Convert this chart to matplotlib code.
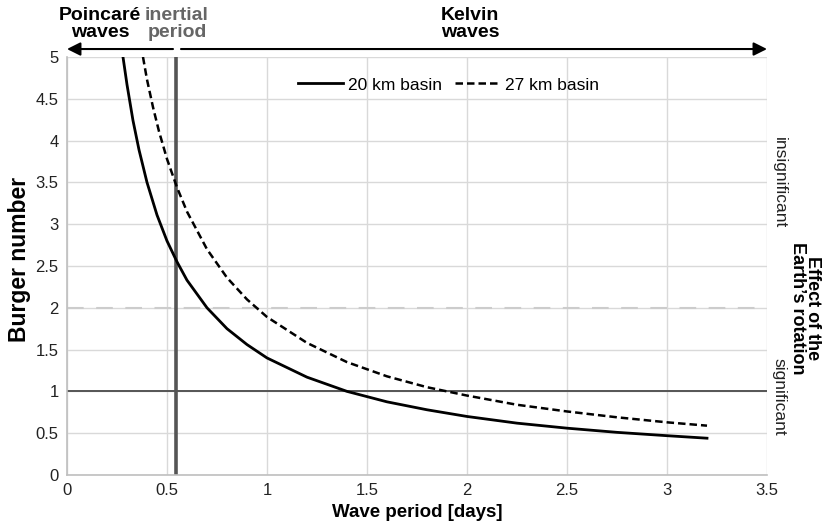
import matplotlib
matplotlib.use('AGG')
import matplotlib.pyplot as plt

# values
period_20 = [0.28, 0.30, 0.33, 0.36, 0.40, 0.45, 0.50, 0.55, 0.60, 0.70, 0.80, 0.90, 1.00,
             1.20, 1.40, 1.60, 1.80, 2.00, 2.25, 2.50, 2.75, 3.00, 3.20]
burger_20 = [5.00, 4.67, 4.24, 3.89, 3.50, 3.11, 2.80, 2.55, 2.33, 2.00, 1.75, 1.56, 1.40,
             1.17, 1.00, 0.875, 0.78, 0.70, 0.62, 0.56, 0.51, 0.47, 0.44]
period_27 = [0.38, 0.40, 0.43, 0.46, 0.50, 0.55, 0.60, 0.70, 0.80, 0.90, 1.00, 1.20, 1.40,
             1.60, 1.80, 2.00, 2.25, 2.50, 2.75, 3.00, 3.20]
burger_27 = [5.00, 4.73, 4.40, 4.11, 3.78, 3.44, 3.15, 2.70, 2.36, 2.10, 1.89, 1.58, 1.35,
             1.18, 1.05, 0.95, 0.84, 0.76, 0.69, 0.63, 0.59]
inertial_period = 0.545
xticks = [0, 0.5, 1, 1.5, 2, 2.5, 3, 3.5]
yticks = [0, 0.5, 1, 1.5, 2, 2.5, 3, 3.5, 4, 4.5, 5]

plt.rcParams['font.family'] = ['Liberation Sans', 'DejaVu Sans']

fig = plt.figure(figsize=(8.25, 5.28), dpi=100)
ax = fig.add_axes([0.0812, 0.1004, 0.8485, 0.7917])

ax.set_xlim(0, 3.5)
ax.set_ylim(0, 5)
ax.set_xticks(xticks)
ax.set_yticks(yticks)
ax.set_xticklabels(['0', '0.5', '1', '1.5', '2', '2.5', '3', '3.5'], fontsize=12)
ax.set_yticklabels(['0', '0.5', '1', '1.5', '2', '2.5', '3', '3.5', '4', '4.5', '5'], fontsize=12)
ax.tick_params(length=0, pad=6, colors='#222222')
ax.grid(True, color='#d9d9d9', linewidth=1.0)
ax.set_axisbelow(True)
for s in ['top', 'right']:
    ax.spines[s].set_visible(False)
for s in ['left', 'bottom']:
    ax.spines[s].set_color('#bfbfbf')
    ax.spines[s].set_linewidth(1.2)

ax.axhline(2, color='#cccccc', linewidth=1.5, linestyle=(0, (8, 6)), zorder=1)
ax.axhline(1, color='#555555', linewidth=1.4, zorder=2)
ax.axvline(inertial_period, color='#555555', linewidth=2.6, zorder=2)

ax.plot(period_20, burger_20, color='black', linewidth=2.0, label='20 km basin', zorder=3)
ax.plot(period_27, burger_27, color='black', linewidth=1.8, linestyle=(0, (3, 1.6)),
        label='27 km basin', zorder=3)

ax.legend(loc='center', bbox_to_anchor=(0.545, 0.933), ncol=2, frameon=False,
          fontsize=12.5, handlelength=2.6, handletextpad=0.3, columnspacing=0.7,
          borderpad=0)

ax.set_xlabel('Wave period [days]', fontsize=13.5, fontweight='bold', labelpad=4)
ax.set_ylabel('Burger number', fontsize=16.5, fontweight='bold')
ax.yaxis.set_label_coords(-0.052, 0.515)

# arrows above the plot
arr_y = 1.019
trans = ('data', 'axes fraction')
ax.annotate('', xy=(0, arr_y), xytext=(inertial_period - 0.015, arr_y),
            xycoords=trans, textcoords=trans, annotation_clip=False,
            arrowprops=dict(arrowstyle='-|>', color='black', lw=1.5,
                            mutation_scale=20, shrinkA=0, shrinkB=0))
ax.annotate('', xy=(3.5, arr_y), xytext=(inertial_period + 0.025, arr_y),
            xycoords=trans, textcoords=trans, annotation_clip=False,
            arrowprops=dict(arrowstyle='-|>', color='black', lw=1.5,
                            mutation_scale=20, shrinkA=0, shrinkB=0))

txt_y = 1.078
ax.text(0.165, txt_y, 'Poincaré\nwaves', transform=ax.get_xaxis_transform(),
        ha='center', va='center', fontsize=14, fontweight='bold', linespacing=1.0)
ax.text(0.55, txt_y, 'inertial\nperiod', transform=ax.get_xaxis_transform(),
        ha='center', va='center', fontsize=14, fontweight='bold', color='#666666',
        linespacing=1.0)
ax.text(2.015, txt_y, 'Kelvin\nwaves', transform=ax.get_xaxis_transform(),
        ha='center', va='center', fontsize=14, fontweight='bold', linespacing=1.0)

# right side annotation
ax.text(3.56, 3.5, 'insignificant', transform=ax.transData, rotation=-90,
        ha='center', va='center', fontsize=12.5, color='#222222', clip_on=False)
ax.text(3.56, 0.93, 'significant', transform=ax.transData, rotation=-90,
        ha='center', va='center', fontsize=12.5, color='#222222', clip_on=False)
ax.text(3.69, 2.0, 'Effect of the\nEarth\u2019s rotation', transform=ax.transData,
        rotation=-90, ha='center', va='center', fontsize=13, fontweight='bold',
        linespacing=0.9, clip_on=False)

fig.savefig('out.png', dpi=100)
